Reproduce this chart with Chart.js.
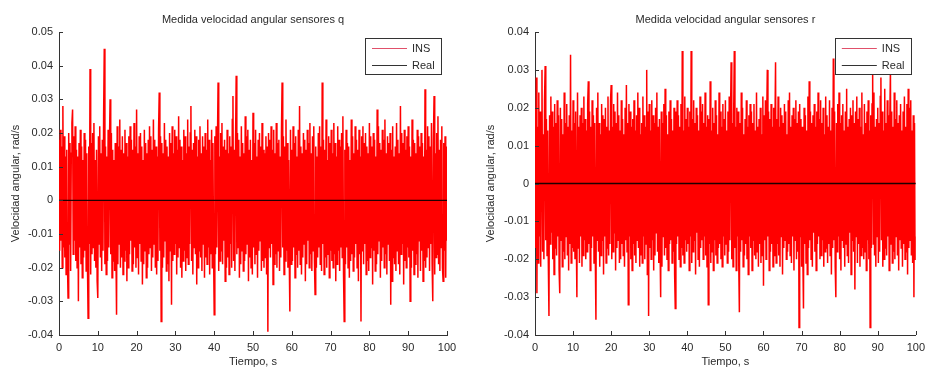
<!DOCTYPE html>
<html>
<head>
<meta charset="utf-8">
<script src="https://cdn.jsdelivr.net/npm/chart.js@4.4.1/dist/chart.umd.min.js"></script>
<style>
html,body{margin:0;padding:0;background:#fff;}
#wrap{position:relative;width:931px;height:367px;overflow:hidden;}
.pane{position:absolute;top:0;height:367px;}
</style>
</head>
<body>
<div id="wrap">
  <div class="pane" style="left:0;width:465px;"><canvas id="cq"></canvas></div>
  <div class="pane" style="left:465px;width:466px;"><canvas id="cr"></canvas></div>
</div>
<script>
// ---- Data (angular velocity in mrad/s, sampled uniformly over 0..100 s) ----
const timeStart = 0, timeEnd = 100;
const qVals = [
18,-15,21,-12,16,-20,28,-14,19,-17,13,-22,15,-18,-29,20,-13,17,-21,14,
23,27,-16,19,-12,22,-18,15,-20,13,-30,17,-14,21,-19,16,-23,12,-17,20,
-15,18,-21,14,-19,-35,16,-13,39,-22,17,-16,20,-14,23,-18,12,-20,15,-24,
-29,19,-13,22,-17,14,-21,18,-15,25,45,-19,16,-22,13,-18,21,-14,17,30,
-16,20,-23,15,-18,12,-21,17,-14,-34,22,-19,16,-13,24,-20,15,-17,19,-22,
14,-18,21,-15,17,-24,13,-20,19,-16,22,-12,18,-21,15,-19,23,-14,16,-20,
27,-17,14,-22,19,-13,20,-18,16,-25,12,-19,21,-15,17,-23,14,-20,18,-16,
22,-14,19,-21,15,-17,24,-13,18,-20,16,-22,13,-18,21,32,-15,19,-36,17,
-20,14,-17,23,-12,18,-21,16,-19,13,-24,20,-15,17,-31,22,-18,14,-16,21,
-13,19,-22,15,-17,25,-14,18,-20,16,-23,12,-18,21,-15,19,-21,14,-17,24,
-19,16,-13,20,28,-18,15,-22,17,-14,21,-16,19,-25,13,-20,18,-15,22,-17,
14,-21,19,-13,16,-23,20,-17,15,-19,24,-14,18,-22,12,-16,21,-20,17,-15,
-34,19,-16,22,-14,17,35,-21,13,-18,20,-15,23,-19,16,-12,18,-24,15,-20,
21,-17,14,-22,19,-13,16,-20,24,31,-18,15,-21,17,37,-16,20,-14,18,-23,
13,-19,22,-15,17,-21,14,-18,25,-16,19,-13,21,-24,15,-17,18,-20,12,-22,
26,-14,17,-19,21,-16,13,-23,18,-15,20,-12,16,-21,23,-18,15,-20,14,-17,
19,-22,16,-39,20,-14,18,-17,22,-13,15,-25,21,-19,14,-16,23,-20,17,-15,
18,-21,13,-17,20,35,-14,19,-22,16,-18,24,-15,17,-20,12,-16,-33,21,-19,
15,-18,22,-14,17,-23,19,-16,13,-20,21,-15,28,-19,16,-22,14,-17,20,-13,
18,-24,15,-19,21,-12,17,-20,23,-16,14,-21,19,-15,22,-18,-28,16,-20,13,
-17,20,-14,22,-19,16,-21,35,-13,18,-22,15,-17,24,-20,12,-16,19,-23,17,
-15,21,-18,14,-20,23,-16,17,-24,13,-19,22,-15,18,-21,16,-14,20,-17,25,
-22,-36,15,-19,21,-14,17,-20,16,-23,12,-18,24,-16,19,-21,14,-17,22,-13,
18,-20,15,-24,21,-16,13,-36,19,-15,22,-19,17,-13,20,-22,16,-18,14,-21,
23,-17,19,-14,16,-25,20,-15,18,-21,13,-19,27,-16,22,-12,17,-23,15,-18,
21,-14,18,-20,24,-16,14,-22,19,-13,17,-18,20,-31,15,-24,22,-17,13,-19,
16,-21,23,-15,18,-19,14,-22,28,-16,20,-13,17,-25,21,-18,15,-20,19,-14,
22,-17,16,-30,13,-20,24,-15,18,-22,17,-19,14,-16,21,-23,19,-12,16,-21,
20,-15,17,-24,13,-18,33,-20,15,-17,22,-14,19,-21,16,-13,23,-19,-30,18,
31,-22,14,-17,20,-16,25,-19,15,-21,18,-14,22,-20,-24,17,-15,19,-23,16,
-12
];
const rVals = [
20,-17,28,-29,15,-21,24,-14,19,-22,16,30,-18,13,-20,22,31,-15,17,-19,
14,-21,-35,18,-16,23,-13,19,-20,15,-24,21,-17,16,-19,22,-14,18,-23,-29,
20,-15,17,-22,13,-18,24,-20,16,-14,21,-19,15,-23,18,-16,34,-21,14,-17,
22,-18,16,-20,19,-13,-30,24,-17,15,-21,18,-14,20,-22,16,-19,23,-15,17,
-20,14,-18,21,27,-16,19,-23,15,-17,22,-14,18,-21,16,-19,-36,20,-15,24,
-18,16,-22,13,-19,21,-15,18,-24,17,-14,20,-21,15,-17,23,-19,14,-16,22,
26,-20,15,-18,21,-13,19,-23,16,-17,24,-15,18,-21,14,-20,22,-16,17,-19,
13,-22,20,-15,26,-18,16,-32,21,-14,19,-20,15,-23,17,-16,22,-19,14,-21,
18,-15,24,-17,20,-22,13,-19,16,-21,23,-14,18,-20,15,-16,30,-24,19,-35,
21,-17,14,-20,22,-15,18,-23,16,-19,20,-13,24,-18,15,-21,17,-16,-30,19,
-22,16,-14,21,-19,25,-17,18,-20,13,-23,19,-16,22,-15,17,-21,14,-18,20,
-24,-33,19,-16,22,-14,18,-20,15,-22,21,-17,35,-19,14,-21,23,-15,17,-18,
20,-16,15,-23,19,-14,35,-21,17,-18,22,-15,16,-24,20,-13,18,-20,14,-22,
23,-17,19,-15,21,-20,16,-14,24,-19,15,-22,18,-32,17,-16,27,-21,14,-18,
20,-23,16,-15,22,-19,18,-21,13,-17,24,-16,19,-20,15,-22,21,-14,17,-19,
22,-16,14,-21,19,-18,23,-15,17,32,-20,16,-22,18,35,-17,15,-23,20,-14,
19,-21,-34,16,-18,24,-15,20,-22,13,-19,17,-16,22,-20,15,-24,18,-14,21,
-17,19,-23,16,-15,21,-19,14,-20,24,-18,15,-22,17,-16,20,-21,13,-19,23,
-27,18,-15,22,-20,16,30,-14,19,-23,17,-18,21,-16,15,-22,20,-19,14,32,
-21,17,-16,23,-19,15,-22,20,-14,18,-24,16,-17,21,-15,19,-20,13,-18,22,
-16,24,-19,15,-21,18,-14,20,-23,17,-15,22,-20,16,-18,19,-38,21,-14,17,
-22,15,-19,-33,20,-16,18,-21,14,-24,23,-17,27,-15,19,-20,16,-22,18,-13,
21,-18,15,-23,19,-16,24,-14,17,-20,22,-19,16,-15,20,-22,13,-18,23,-17,
18,-21,15,-16,22,-19,14,-24,20,-17,33,-15,19,-22,-30,16,-18,21,-14,24,
-20,16,-23,18,-15,21,-17,14,-22,19,-16,25,-19,15,-21,17,-13,20,-24,18,
-15,22,-18,16,-28,19,-14,23,-21,17,-16,20,-22,15,-19,24,-17,13,-20,21,
-18,16,-23,19,-15,22,-20,14,-38,18,-17,21,29,-16,24,-19,15,-22,17,-14,
20,-21,16,-18,23,28,-15,19,-22,14,-20,25,-17,16,-19,22,-14,18,-23,17,
30,-16,19,-21,15,-18,24,-20,17,-14,22,-19,16,-23,18,-15,21,-17,14,-22,
19,-16,23,-20,15,-18,21,-24,25,-17,20,-15,22,-19,14,-21,18,-30,16,-20,
-14
];
const realTime = [0, 100];
const realVals = [0, 0];
const xTicks = [0,10,20,30,40,50,60,70,80,90,100];
const qTicks = [-0.04,-0.03,-0.02,-0.01,0,0.01,0.02,0.03,0.04,0.05];
const rTicks = [-0.04,-0.03,-0.02,-0.01,0,0.01,0.02,0.03,0.04];
const seriesLabels = ['INS', 'Real'];
const titles = ['Medida velocidad angular sensores q', 'Medida velocidad angular sensores r'];
const xTitle = 'Tiempo, s';
const yTitle = 'Velocidad angular, rad/s';

const FONT = '"Liberation Sans", Arial, sans-serif';
const TXT = '#2a2a2a';

function toPoints(vals) {
  const n = vals.length - 1;
  return vals.map((v, i) => ({x: timeStart + (timeEnd - timeStart) * i / n, y: v / 1000}));
}

const inwardTicks = {
  id: 'inwardTicks',
  afterDraw(chart) {
    const ctx = chart.ctx, a = chart.chartArea;
    ctx.save();
    ctx.strokeStyle = '#333';
    ctx.lineWidth = 1;
    const xs = chart.scales.x, ys = chart.scales.y;
    xs.ticks.forEach(t => {
      const px = Math.round(xs.getPixelForValue(t.value)) + 0.5;
      ctx.beginPath(); ctx.moveTo(px, a.bottom); ctx.lineTo(px, a.bottom - 4); ctx.stroke();
    });
    ys.ticks.forEach(t => {
      const py = Math.round(ys.getPixelForValue(t.value)) + 0.5;
      ctx.beginPath(); ctx.moveTo(a.left, py); ctx.lineTo(a.left + 4, py); ctx.stroke();
    });
    // legend box
    const o = chart.options.plugins.boxLegend;
    const bx = a.right - o.inset - o.w, by = a.top + 6;
    ctx.fillStyle = '#fff';
    ctx.fillRect(bx, by, o.w, o.h);
    ctx.strokeStyle = '#333';
    ctx.strokeRect(Math.round(bx) + 0.5, Math.round(by) + 0.5, o.w, o.h);
    ctx.font = '11px ' + FONT;
    ctx.textBaseline = 'middle';
    ctx.fillStyle = TXT;
    chart.data.datasets.forEach((ds, i) => {
      const ly = by + 10 + i * 17;
      ctx.strokeStyle = ds.legendColor;
      ctx.lineWidth = 1;
      ctx.beginPath(); ctx.moveTo(bx + 7, ly + 0.5); ctx.lineTo(bx + 42, ly + 0.5); ctx.stroke();
      ctx.fillText(ds.label, bx + 47, ly + 1);
    });
    ctx.restore();
  }
};

function makeChart(id, vals, ticks, title, yWidth, padRight, yTitlePad, legendInset) {
  return new Chart(document.getElementById(id), {
    type: 'line',
    data: {
      datasets: [
        {label: seriesLabels[0], data: toPoints(vals), borderColor: '#ff0000', legendColor: '#e0506a',
         borderWidth: 1.5, pointRadius: 0, tension: 0, order: 2},
        {label: seriesLabels[1], data: realTime.map((t, i) => ({x: t, y: realVals[i]})), borderColor: '#200000',
         legendColor: '#333', borderWidth: 1.3, pointRadius: 0, tension: 0, order: 1}
      ]
    },
    options: {
      responsive: true,
      maintainAspectRatio: false,
      animation: false,
      events: [],
      layout: {padding: {left: 0, right: padRight, top: 0, bottom: 0}},
      plugins: {
        legend: {display: false},
        tooltip: {enabled: false},
        title: {display: true, text: title, fullSize: false, color: TXT,
                font: {family: FONT, size: 11, weight: 'normal', lineHeight: 1.2},
                padding: {top: 13.4, bottom: 5.4}},
        boxLegend: {w: 76, h: 36, inset: legendInset}
      },
      scales: {
        x: {
          type: 'linear', min: xTicks[0], max: xTicks[xTicks.length - 1],
          afterBuildTicks: s => { s.ticks = xTicks.map(v => ({value: v})); },
          afterFit: s => { s.height = 32; },
          grid: {display: false, drawTicks: false},
          border: {display: true, color: '#333', width: 1},
          ticks: {color: TXT, font: {family: FONT, size: 11}, padding: 6, maxRotation: 0, autoSkip: false,
                  callback: v => String(v)},
          title: {display: true, text: xTitle, color: TXT, font: {family: FONT, size: 11, lineHeight: 1},
                  padding: {top: 0, bottom: 0}}
        },
        y: {
          type: 'linear', min: ticks[0], max: ticks[ticks.length - 1],
          afterBuildTicks: s => { s.ticks = ticks.map(v => ({value: v})); },
          afterFit: s => { s.width = yWidth; },
          grid: {display: false, drawTicks: false},
          border: {display: true, color: '#333', width: 1},
          ticks: {color: TXT, font: {family: FONT, size: 11}, padding: 6, autoSkip: false,
                  callback: v => v === 0 ? '0' : String(Math.round(v * 100) / 100)},
          title: {display: true, text: yTitle, color: TXT, font: {family: FONT, size: 11, lineHeight: 1.2},
                  padding: {top: yTitlePad, bottom: 0}}
        }
      }
    },
    plugins: [inwardTicks]
  });
}

makeChart('cq', qVals, qTicks, titles[0], 59, 18, 9.4, 6);
makeChart('cr', rVals, rTicks, titles[1], 70, 8, 19.4, 5);
</script>
</body>
</html>
